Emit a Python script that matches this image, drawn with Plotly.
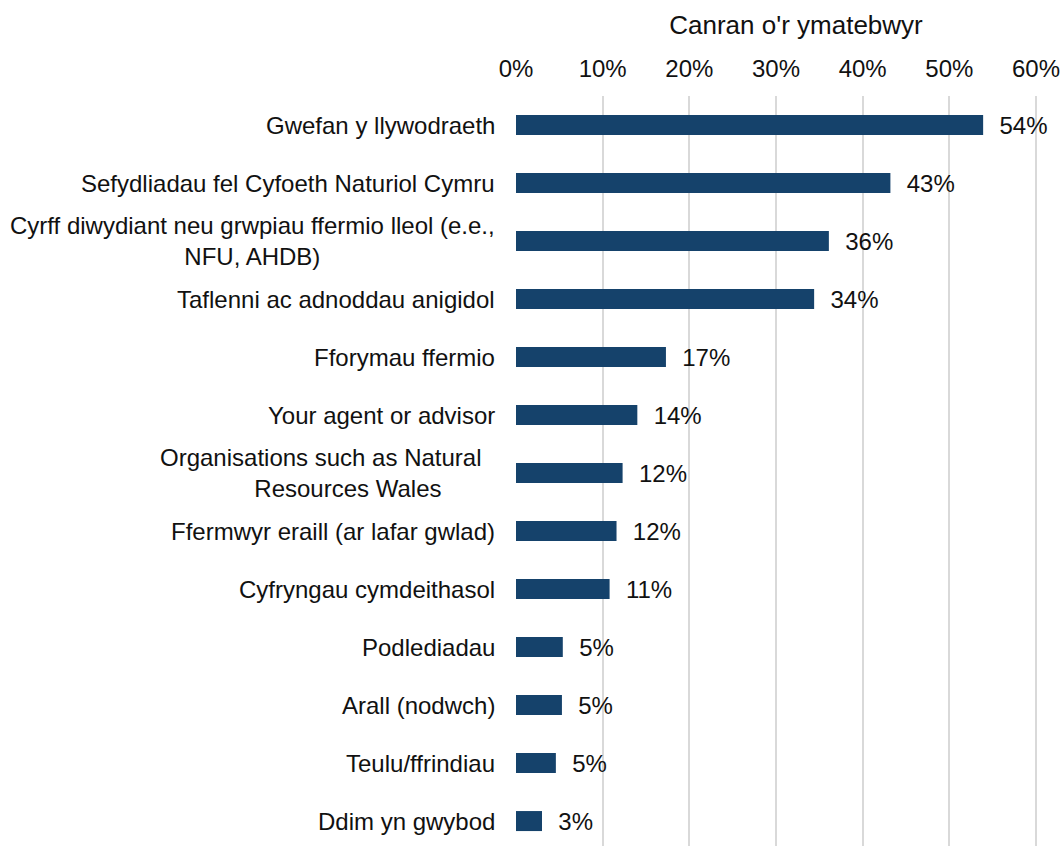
import plotly.graph_objects as go

NB = "\u00a0"
categories = [
    "Gwefan y llywodraeth",
    "Sefydliadau fel Cyfoeth Naturiol Cymru",
    "Cyrff diwydiant neu grwpiau ffermio lleol (e.e.,<br>NFU, AHDB)",
    "Taflenni ac adnoddau anigidol",
    "Fforymau ffermio",
    "Your agent or advisor",
    "Organisations such as Natural" + NB * 2 + "<br>Resources Wales" + NB * 8,
    "Ffermwyr eraill (ar lafar gwlad)",
    "Cyfryngau cymdeithasol",
    "Podlediadau",
    "Arall (nodwch)",
    "Teulu/ffrindiau",
    "Ddim yn gwybod",
]
label_align = ["center"] * 6 + ["right"] + ["center"] * 6
values = [53.9, 43.2, 36.1, 34.4, 17.3, 14.0, 12.3, 11.6, 10.8, 5.4, 5.3, 4.6, 3.0]
labels = ["54%", "43%", "36%", "34%", "17%", "14%", "12%", "12%", "11%", "5%", "5%", "5%", "3%"]
tick_vals = [0, 10, 20, 30, 40, 50, 60]
tick_text = ["0%", "10%", "20%", "30%", "40%", "50%", "60%"]

FONT = "Arial, Liberation Sans, sans-serif"
BAR = "#15426b"
TXT = "#111111"
W, H = 1062, 846

fig = go.Figure()
fig.add_trace(go.Bar(
    x=values,
    y=list(range(len(categories))),
    orientation="h",
    width=0.345,
    marker=dict(color=BAR, line=dict(width=0)),
    text=[NB * 2 + t for t in labels],
    textposition="outside",
    constraintext="none",
    textfont=dict(family=FONT, size=24, color=TXT),
    cliponaxis=False,
    hoverinfo="skip",
))

annotations = []
for i, c in enumerate(categories):
    annotations.append(dict(
        x=0, xref="paper", y=i, yref="y",
        text=c, showarrow=False, xanchor="right", yanchor="middle",
        xshift=-19, align=label_align[i],
        font=dict(family=FONT, size=24, color=TXT),
    ))

fig.update_layout(
    width=W, height=H,
    margin=dict(l=516, r=24, t=96, b=0, autoexpand=False),
    paper_bgcolor="white", plot_bgcolor="white",
    showlegend=False,
    annotations=annotations,
    title=dict(text="Canran o'r ymatebwyr", xref="container", yref="container",
               x=796 / W, y=1 - 25 / H, xanchor="center", yanchor="middle",
               font=dict(family=FONT, size=26, color=TXT)),
    xaxis=dict(
        side="top",
        range=[0, 60.23],
        tickvals=tick_vals, ticktext=tick_text,
        showgrid=True, gridcolor="#d9d9d9", gridwidth=1.5,
        zeroline=False, showline=False,
        ticks="outside", ticklen=8, tickcolor="rgba(0,0,0,0)",
        tickfont=dict(family=FONT, size=24, color=TXT),
        ticklabeloverflow="allow",
        automargin=False,
    ),
    yaxis=dict(
        range=[12.43, -0.5],
        showticklabels=False, showgrid=False, zeroline=False, showline=False,
        ticks="", automargin=False,
    ),
)

fig.write_html(
    "out.html",
    config={"displayModeBar": False},
    post_script="document.body.style.margin='0';document.body.style.overflow='hidden';",
)
